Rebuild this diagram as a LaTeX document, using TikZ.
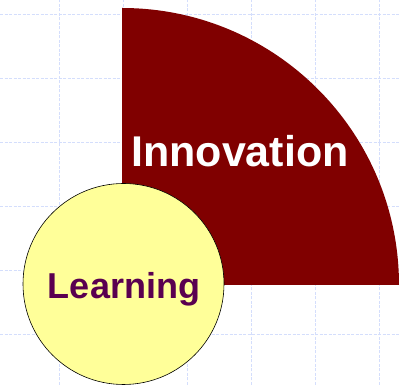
\documentclass[tikz,border=0pt]{standalone}
\usepackage{fontspec}
\setmainfont{Liberation Sans}
\definecolor{gridblue}{RGB}{212,222,252}
\definecolor{darkred}{RGB}{128,0,0}
\definecolor{paleyellow}{RGB}{255,255,153}
\definecolor{learnpurple}{RGB}{90,0,80}
\tikzset{
  gridline/.style={draw=gridblue, line width=0.8pt, dash pattern=on 3pt off 1.5pt},
  quarter/.style={fill=darkred, draw=none},
  learncircle/.style={fill=paleyellow, draw=black, line width=0.6pt},
  bigtext/.style={font=\fontsize{43}{43}\selectfont\bfseries, inner sep=0pt, anchor=base}
}
\begin{document}
\begin{tikzpicture}[x=1pt,y=1pt]
\useasboundingbox (0,0) rectangle (400,385);
\fill[white] (0,0) rectangle (400,385);
\foreach \gx in {59,123,187,251,315,379} {\draw[gridline] (\gx,0) -- (\gx,385);}
\foreach \gy in {371,307,243,179,115,51} {\draw[gridline] (0,\gy) -- (400,\gy);}
\coordinate (qc) at (122,100);
\fill[quarter] (qc) -- ++(0,277) arc[start angle=90, end angle=0, radius=277] -- cycle;
\node[learncircle, circle, minimum size=201pt, inner sep=0pt] (learn) at (123.5,101) {};
\node[bigtext, text=white] (innov) at (240,218) {Innovation};
\node[bigtext, text=learnpurple, font=\fontsize{36}{36}\selectfont\bfseries] (learning) at (124,86) {Learning};
\end{tikzpicture}
\end{document}
